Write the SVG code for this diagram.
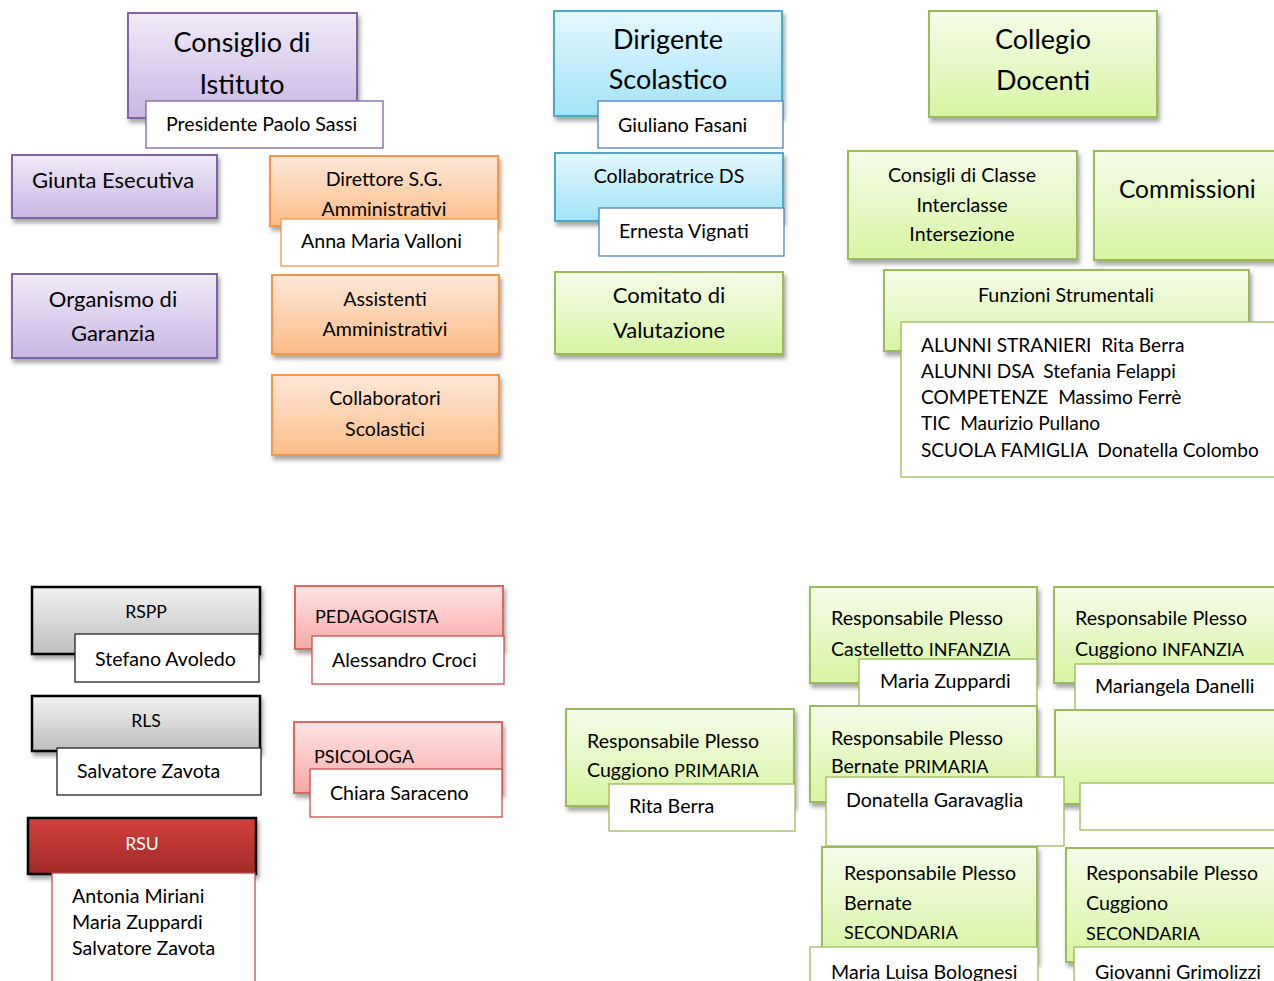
<svg xmlns="http://www.w3.org/2000/svg" width="1274" height="981" viewBox="0 0 1274 981">
<defs>
<linearGradient id="gPurple" x1="0" y1="0" x2="0" y2="1"><stop offset="0" stop-color="#f1ebf8"/><stop offset="1" stop-color="#c9b6e4"/></linearGradient>
<linearGradient id="gOrange" x1="0" y1="0" x2="0" y2="1"><stop offset="0" stop-color="#fee8d8"/><stop offset="1" stop-color="#fbbd88"/></linearGradient>
<linearGradient id="gBlue" x1="0" y1="0" x2="0" y2="1"><stop offset="0" stop-color="#e4f8fe"/><stop offset="1" stop-color="#a3e3f8"/></linearGradient>
<linearGradient id="gGreen" x1="0" y1="0" x2="0" y2="1"><stop offset="0" stop-color="#f5fbe9"/><stop offset="1" stop-color="#d7f5a3"/></linearGradient>
<linearGradient id="gGray" x1="0" y1="0" x2="0" y2="1"><stop offset="0" stop-color="#f2f2f2"/><stop offset="1" stop-color="#bebebe"/></linearGradient>
<linearGradient id="gPink" x1="0" y1="0" x2="0" y2="1"><stop offset="0" stop-color="#fde4e4"/><stop offset="1" stop-color="#f9a8a6"/></linearGradient>
<linearGradient id="gRed" x1="0" y1="0" x2="0" y2="1"><stop offset="0" stop-color="#d2413d"/><stop offset="1" stop-color="#a02a27"/></linearGradient>
<filter id="sh" x="-10%" y="-10%" width="130%" height="140%"><feDropShadow dx="2" dy="4" stdDeviation="2" flood-color="#000" flood-opacity="0.35"/></filter>
</defs>
<style>
text{font-family:Lato,"Liberation Sans",sans-serif;fill:#000;white-space:pre}
.t25{font-size:27px}
.t20{font-size:22px}
.t24{font-size:24.5px}
.t17{font-size:19.6px}
.tu{font-size:18px}
.tl{font-size:19.1px}
.t16{font-size:17.6px}
.m{text-anchor:middle}
.w{fill:#fff}
.box{filter:url(#sh);stroke-width:2}
.purple{fill:url(#gPurple);stroke:#8064a2}
.orange{fill:url(#gOrange);stroke:#f79646}
.blue{fill:url(#gBlue);stroke:#4bacc6}
.green{fill:url(#gGreen);stroke:#9bbb59}
.gray{fill:url(#gGray);stroke:#000;stroke-width:2.5}
.pink{fill:url(#gPink);stroke:#d96866}
.red{fill:url(#gRed);stroke:#000;stroke-width:2.5}
.wb{fill:#fff;stroke-width:1.3}
.sp{stroke:#8064a2}.so{stroke:#f79646}.sb{stroke:#4f81bd}.sg{stroke:#9bbb59}.sk{stroke:#222}.sr{stroke:#c9504d}
</style>
<rect width="1274" height="981" fill="#fff"/>
<g id="connectors"/>

<g id="consiglio">
<rect class="box purple" x="128" y="13" width="229" height="105"/>
<text class="t25 m" x="242" y="52">Consiglio di</text>
<text class="t25 m" x="242" y="94">Istituto</text>
<rect class="wb sp" x="146" y="101" width="237" height="47"/>
<text class="t17" x="166" y="131">Presidente Paolo Sassi</text>
</g>
<g id="giunta">
<rect class="box purple" x="12" y="155" width="205" height="63"/>
<text class="t20 m" x="113" y="188">Giunta Esecutiva</text>
</g>
<g id="organismo">
<rect class="box purple" x="12" y="274" width="205" height="84"/>
<text class="t20 m" x="113" y="307">Organismo di</text>
<text class="t20 m" x="113" y="341">Garanzia</text>
</g>
<g id="direttore">
<rect class="box orange" x="270" y="156" width="228" height="70"/>
<text class="t17 m" x="384" y="186">Direttore S.G.</text>
<text class="t17 m" x="384" y="216">Amministrativi</text>
<rect class="wb so" x="281" y="219" width="217" height="47"/>
<text class="t17" x="301" y="248">Anna Maria Valloni</text>
</g>
<g id="assistenti">
<rect class="box orange" x="272" y="275" width="227" height="79"/>
<text class="t17 m" x="385" y="306">Assistenti</text>
<text class="t17 m" x="385" y="336">Amministrativi</text>
</g>
<g id="collaboratori">
<rect class="box orange" x="272" y="375" width="227" height="80"/>
<text class="t17 m" x="385" y="405">Collaboratori</text>
<text class="t17 m" x="385" y="436">Scolastici</text>
</g>

<g id="dirigente">
<rect class="box blue" x="554" y="11" width="228" height="105"/>
<text class="t25 m" x="668" y="49">Dirigente</text>
<text class="t25 m" x="668" y="89">Scolastico</text>
<rect class="wb sb" x="598" y="101" width="185" height="47"/>
<text class="t17" x="618" y="132">Giuliano Fasani</text>
</g>
<g id="collaboratrice">
<rect class="box blue" x="555" y="153" width="228" height="68"/>
<text class="t17 m" x="669" y="183">Collaboratrice DS</text>
<rect class="wb sb" x="599" y="208" width="185" height="48"/>
<text class="t17" x="619" y="238">Ernesta Vignati</text>
</g>
<g id="comitato">
<rect class="box green" x="555" y="272" width="228" height="82"/>
<text class="t20 m" x="669" y="303">Comitato di</text>
<text class="t20 m" x="669" y="338">Valutazione</text>
</g>

<g id="collegio">
<rect class="box green" x="929" y="11" width="228" height="106"/>
<text class="t25 m" x="1043" y="49">Collegio</text>
<text class="t25 m" x="1043" y="90">Docenti</text>
</g>
<g id="consigli">
<rect class="box green" x="848" y="151" width="229" height="108"/>
<text class="t17 m" x="962" y="182">Consigli di Classe</text>
<text class="t17 m" x="962" y="212">Interclasse</text>
<text class="t17 m" x="962" y="241">Intersezione</text>
</g>
<g id="commissioni">
<rect class="box green" x="1094" y="151" width="200" height="109"/>
<text class="t24" x="1119" y="198">Commissioni</text>
</g>
<g id="funzioni">
<rect class="box green" x="884" y="270" width="365" height="81"/>
<text class="t17 m" x="1066" y="302">Funzioni Strumentali</text>
<rect class="wb sg" x="901" y="322" width="400" height="155"/>
<text class="tl" x="921" y="352">ALUNNI STRANIERI  Rita Berra</text>
<text class="tl" x="921" y="378">ALUNNI DSA  Stefania Felappi</text>
<text class="tl" x="921" y="404">COMPETENZE  Massimo Ferrè</text>
<text class="tl" x="921" y="430">TIC  Maurizio Pullano</text>
<text class="tl" x="921" y="457">SCUOLA FAMIGLIA  Donatella Colombo</text>
</g>

<g id="rspp">
<rect class="box gray" x="32" y="587" width="228" height="67"/>
<text class="t16 m" x="146" y="618">RSPP</text>
<rect class="wb sk" x="75" y="634" width="184" height="48"/>
<text class="t17" x="95" y="666">Stefano Avoledo</text>
</g>
<g id="rls">
<rect class="box gray" x="32" y="696" width="228" height="55"/>
<text class="t16 m" x="146" y="727">RLS</text>
<rect class="wb sk" x="57" y="748" width="204" height="47"/>
<text class="t17" x="77" y="778">Salvatore Zavota</text>
</g>
<g id="rsu">
<rect class="box red" x="28" y="818" width="228" height="56"/>
<text class="t16 m w" x="142" y="850">RSU</text>
<rect class="wb sr" x="52" y="873" width="203" height="130"/>
<text class="t17" x="72" y="903">Antonia Miriani</text>
<text class="t17" x="72" y="929">Maria Zuppardi</text>
<text class="t17" x="72" y="955">Salvatore Zavota</text>
</g>
<g id="pedagogista">
<rect class="box pink" x="295" y="586" width="208" height="63"/>
<text class="tu" x="315" y="623">PEDAGOGISTA</text>
<rect class="wb sr" x="312" y="636" width="192" height="48"/>
<text class="t17" x="332" y="667">Alessandro Croci</text>
</g>
<g id="psicologa">
<rect class="box pink" x="294" y="722" width="208" height="71"/>
<text class="tu" x="314" y="763">PSICOLOGA</text>
<rect class="wb sr" x="310" y="769" width="192" height="48"/>
<text class="t17" x="330" y="800">Chiara Saraceno</text>
</g>

<g id="castelletto-infanzia">
<rect class="box green" x="810" y="587" width="227" height="96"/>
<text class="t17" x="831" y="625">Responsabile Plesso</text>
<text class="t17" x="831" y="656">Castelletto <tspan class="tu">INFANZIA</tspan></text>
<rect class="wb sg" x="859" y="659" width="178" height="47"/>
<text class="t17" x="880" y="688">Maria Zuppardi</text>
</g>
<g id="cuggiono-infanzia">
<rect class="box green" x="1054" y="587" width="240" height="96"/>
<text class="t17" x="1075" y="625">Responsabile Plesso</text>
<text class="t17" x="1075" y="656">Cuggiono <tspan class="tu">INFANZIA</tspan></text>
<rect class="wb sg" x="1075" y="664" width="220" height="47"/>
<text class="t17" x="1095" y="693">Mariangela Danelli</text>
</g>
<g id="cuggiono-primaria">
<rect class="box green" x="566" y="709" width="228" height="97"/>
<text class="t17" x="587" y="748">Responsabile Plesso</text>
<text class="t17" x="587" y="777">Cuggiono <tspan class="tu">PRIMARIA</tspan></text>
<rect class="wb sg" x="609" y="784" width="186" height="47"/>
<text class="t17" x="629" y="813">Rita Berra</text>
</g>
<g id="vuoto">
<rect class="box green" x="1055" y="710" width="240" height="94"/>
<rect class="wb sg" x="1080" y="783" width="220" height="47"/>
</g>
<g id="bernate-primaria">
<rect class="box green" x="810" y="706" width="227" height="96"/>
<text class="t17" x="831" y="745">Responsabile Plesso</text>
<text class="t17" x="831" y="773">Bernate <tspan class="tu">PRIMARIA</tspan></text>
<rect class="wb sg" x="826" y="777" width="238" height="69"/>
<text class="t17" x="846" y="807">Donatella Garavaglia</text>
</g>
<g id="bernate-secondaria">
<rect class="box green" x="822" y="847" width="215" height="115"/>
<text class="t17" x="844" y="880">Responsabile Plesso</text>
<text class="t17" x="844" y="910">Bernate</text>
<text class="tu" x="844" y="939">SECONDARIA</text>
<rect class="wb sg" x="810" y="947" width="228" height="60"/>
<text class="t17" x="831" y="979">Maria Luisa Bolognesi</text>
</g>
<g id="cuggiono-secondaria">
<rect class="box green" x="1066" y="848" width="230" height="114"/>
<text class="t17" x="1086" y="880">Responsabile Plesso</text>
<text class="t17" x="1086" y="910">Cuggiono</text>
<text class="tu" x="1086" y="940">SECONDARIA</text>
<rect class="wb sg" x="1074" y="947" width="220" height="60"/>
<text class="t17" x="1095" y="979">Giovanni Grimolizzi</text>
</g>
</svg>
